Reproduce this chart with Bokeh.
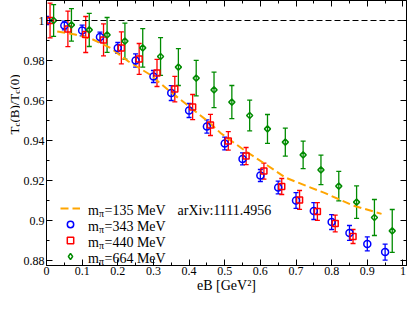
import numpy as np
from bokeh.plotting import figure
from bokeh.layouts import row
from bokeh.models import (Range1d, FixedTicker, LinearAxis, Whisker, TeeHead,
                          ColumnDataSource, Span, Label, Legend, LegendItem)
from bokeh.embed import file_html
from bokeh.resources import INLINE

# ---------------- data ----------------
x_ticks = [0.0, 0.1, 0.2, 0.3, 0.4, 0.5, 0.6, 0.7, 0.8, 0.9, 1.0]
x_tick_labels = ["0", "0.1", "0.2", "0.3", "0.4", "0.5", "0.6", "0.7", "0.8", "0.9", "1"]
x_minor = [0.05, 0.15, 0.25, 0.35, 0.45, 0.55, 0.65, 0.75, 0.85, 0.95]
y_ticks = [0.88, 0.9, 0.92, 0.94, 0.96, 0.98, 1.0]
y_tick_labels = ["0.88", "0.9", "0.92", "0.94", "0.96", "0.98", "1"]
y_minor = [0.87, 0.89, 0.91, 0.93, 0.95, 0.97, 0.99]

# m_pi = 343 MeV (blue circles)
b_x = [0.0, 0.05, 0.10, 0.15, 0.20, 0.25, 0.30, 0.35, 0.40, 0.45,
       0.50, 0.55, 0.60, 0.65, 0.70, 0.75, 0.80, 0.85, 0.90, 0.95]
b_y = [1.000, 0.9975, 0.9950, 0.9917, 0.9863, 0.9800, 0.9720, 0.9637, 0.9550, 0.9470,
       0.9385, 0.9308, 0.9225, 0.9165, 0.9100, 0.9047, 0.8992, 0.8938, 0.8883, 0.8842]
b_e = [0.0020, 0.0022, 0.0027, 0.0025, 0.0027, 0.0033, 0.0030, 0.0037, 0.0035, 0.0033,
       0.0032, 0.0030, 0.0030, 0.0032, 0.0039, 0.0042, 0.0037, 0.0037, 0.0035, 0.0040]

# m_pi = 440 MeV (red squares)
r_x = [0.01, 0.06, 0.11, 0.16, 0.21, 0.26, 0.31, 0.36, 0.41, 0.46,
       0.51, 0.56, 0.61, 0.66, 0.71, 0.76, 0.81, 0.86]
r_y = [1.000, 0.9958, 0.9930, 0.9903, 0.9863, 0.9808, 0.9738, 0.9657, 0.9567, 0.9478,
       0.9398, 0.9322, 0.9247, 0.9170, 0.9103, 0.9045, 0.8985, 0.8920]
r_e = [0.0087, 0.0089, 0.0090, 0.0080, 0.0080, 0.0077, 0.0068, 0.0064, 0.0063, 0.0053,
       0.0046, 0.0043, 0.0040, 0.0040, 0.0047, 0.0044, 0.0042, 0.0035]

# m_pi = 664 MeV (green diamonds)
g_x = [0.02, 0.07, 0.12, 0.17, 0.22, 0.27, 0.32, 0.37, 0.42, 0.47,
       0.52, 0.57, 0.62, 0.67, 0.72, 0.77, 0.82, 0.87, 0.92, 0.97]
g_y = [1.000, 0.9978, 0.9953, 0.9928, 0.9897, 0.9863, 0.9820, 0.9767, 0.9712, 0.9653,
       0.9592, 0.9525, 0.9458, 0.9392, 0.9328, 0.9253, 0.9172, 0.9092, 0.9015, 0.8948]
g_e = [0.0079, 0.0081, 0.0083, 0.0087, 0.0090, 0.0096, 0.0094, 0.0092, 0.0089, 0.0089,
       0.0083, 0.0077, 0.0072, 0.0070, 0.0069, 0.0074, 0.0074, 0.0081, 0.0090, 0.0107]

# m_pi = 135 MeV (orange dashed curve, arXiv:1111.4956)
o_x = [0.03, 0.08, 0.13, 0.18, 0.23, 0.29, 0.34, 0.40, 0.45, 0.49,
       0.56, 0.62, 0.67, 0.73, 0.78, 0.86, 0.94]
o_y = [0.9945, 0.9930, 0.9905, 0.9862, 0.9795, 0.9730, 0.9655, 0.9570, 0.9500, 0.9435,
       0.9345, 0.9275, 0.9215, 0.9172, 0.9138, 0.9075, 0.9033]

ref_level = 1.0
legend_masses = ["135", "343", "440", "664"]
legend_ref = "arXiv:1111.4956"
x_label = "eB [GeV\u00b2]"

FONT = "Liberation Serif"
BLUE, RED, GREEN, ORANGE = "#0000ff", "#ff0000", "#008b00", "#ffa500"
H = 296
YW = 20

p = figure(width=407 - YW, height=H, output_backend="svg", toolbar_location=None, title=None,
           x_range=Range1d(0, 1.01), y_range=Range1d(0.8775, 1.01),
           min_border_left=43 - YW, min_border_right=1, min_border_top=0, min_border_bottom=31,
           x_axis_location=None, y_axis_location=None)
p.grid.visible = False
p.outline_line_color = "black"
p.outline_line_width = 1
p.background_fill_color = "white"
p.border_fill_color = "white"

xt = FixedTicker(ticks=x_ticks, minor_ticks=x_minor)
yt = FixedTicker(ticks=y_ticks, minor_ticks=y_minor)

def make_axis(ticker, overrides):
    ax = LinearAxis(ticker=ticker)
    ax.major_tick_in = 6
    ax.major_tick_out = 0
    ax.minor_tick_in = 3
    ax.minor_tick_out = 0
    ax.axis_line_color = "black"
    ax.major_tick_line_color = "black"
    ax.minor_tick_line_color = "black"
    if overrides is not None:
        ax.major_label_overrides = overrides
        ax.major_label_text_font = FONT
        ax.major_label_text_font_size = "12px"
        ax.major_label_text_color = "black"
    else:
        ax.major_label_text_font_size = "0px"
        ax.major_label_text_alpha = 0
        ax.major_label_standoff = 0
    return ax

bx = make_axis(xt, {v: s for v, s in zip(x_ticks, x_tick_labels)})
bx.major_label_standoff = 1
bx.axis_label = x_label
bx.axis_label_text_font = FONT
bx.axis_label_text_font_size = "14px"
bx.axis_label_text_font_style = "normal"
bx.axis_label_text_color = "black"
bx.axis_label_standoff = 0
ly = make_axis(yt, {v: s for v, s in zip(y_ticks, y_tick_labels)})
ly.major_label_standoff = 2
p.add_layout(bx, "below")
p.add_layout(ly, "left")
p.add_layout(make_axis(xt, None), "above")
p.add_layout(make_axis(yt, None), "right")

p.add_layout(Span(location=ref_level, dimension="width", line_color="black",
                  line_width=1, line_dash="6 3"))

orange = p.line(o_x, o_y, line_color=ORANGE, line_width=2, line_dash="8 4")

def add_series(xs, ys, es, color, marker, size, angle=0.0):
    xs = np.asarray(xs); ys = np.asarray(ys); es = np.asarray(es)
    src = ColumnDataSource(dict(x=xs, y=ys, lo=ys - es, hi=ys + es))
    p.add_layout(Whisker(source=src, base="x", lower="lo", upper="hi",
                         line_color=color, line_width=1.3,
                         upper_head=TeeHead(size=5, line_color=color, line_width=1.3),
                         lower_head=TeeHead(size=5, line_color=color, line_width=1.3)))
    r = p.scatter("x", "y", source=src, marker=marker, size=size,
                  angle=float(angle), angle_units="rad",
                  fill_color=None, line_color=color, line_width=1.5)
    return r, src

rb, _ = add_series(b_x, b_y, b_e, BLUE, "circle", 7)
rr, _ = add_series(r_x, r_y, r_e, RED, "square", 6)
rg, g_src = add_series(g_x, g_y, g_e, GREEN, "square", 4.3, np.pi / 4)
# legend sample for the diamonds (the legend draws markers unrotated)
rg_leg = p.scatter("x", "y", source=g_src, marker="diamond", size=7, fill_color=None,
                   line_color=GREEN, line_width=1.5, visible=False)

LEG_Y = 1
legend = Legend(items=[LegendItem(label=" ", renderers=[r]) for r in [orange, rb, rr, rg_leg]],
                location=(14, LEG_Y), glyph_width=20, glyph_height=16, label_height=16,
                label_width=1, spacing=0, padding=0, margin=0, label_standoff=0,
                border_line_color=None, background_fill_alpha=0,
                label_text_font_size="1px", label_text_alpha=0)
p.add_layout(legend, "center")

def lab(fig, x, y, text, size, **kw):
    fig.add_layout(Label(x=x, y=y, x_units="screen", y_units="screen", text=text,
                         text_font=FONT, text_font_size=size, text_color="black",
                         text_baseline="alphabetic", **kw))

# legend texts (m with subscript pi)
centers = [LEG_Y + 8 + 16 * (3 - i) for i in range(4)]
for i, m in enumerate(legend_masses):
    yb = centers[i] - 1.6
    lab(p, 41.5, yb, "m", "14px")
    lab(p, 52.4, yb - 3, "\u03c0", "10px")
    lab(p, 58.0, yb, "=" + m + " MeV", "14px")
lab(p, 131, centers[0] - 1.6, legend_ref, "14px")

# y axis label T_c(B)/T_c(0) drawn in a narrow side figure
yfig = figure(width=YW, height=H, output_backend="svg", toolbar_location=None, title=None,
              x_range=Range1d(0, 1), y_range=Range1d(0, 1),
              min_border_left=0, min_border_right=0, min_border_top=0, min_border_bottom=0,
              x_axis_location=None, y_axis_location=None)
yfig.grid.visible = False
yfig.outline_line_color = None
yfig.background_fill_color = "white"
yfig.border_fill_color = "white"
ang = np.pi / 2
base = H - 165.0
lab(yfig, 13.5, base, "T", "13px", angle=ang)
lab(yfig, 16.0, base + 7.9, "c", "9px", angle=ang)
lab(yfig, 13.5, base + 11.9, "(B)/T", "13px", angle=ang)
lab(yfig, 16.0, base + 40.8, "c", "9px", angle=ang)
lab(yfig, 13.5, base + 44.8, "(0)", "13px", angle=ang)

layout = row(yfig, p)
open("out.html", "w").write(file_html(layout, INLINE))
